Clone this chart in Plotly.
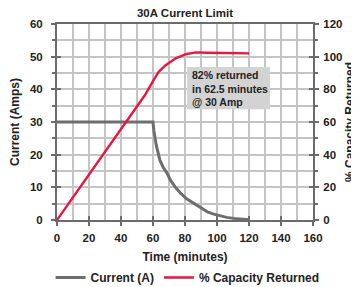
import plotly.graph_objects as go

# Data
current_time = [0, 60, 60.5, 61.1, 62, 64.3, 66.5, 68.8, 70.9, 74, 77.2, 81, 85.6, 90, 94, 98, 102.3, 106, 110.7, 115, 120]
current_amps = [30, 30, 27.5, 25.5, 23, 18.3, 16, 14.3, 12.2, 10, 8.2, 6.5, 5.1, 3.7, 2.5, 1.8, 1.2, 0.8, 0.5, 0.25, 0.1]

capacity_time = [0, 24, 48, 55, 61, 63.6, 67.9, 74.2, 80.5, 86.8, 93.5, 105, 120]
capacity_pct = [0, 33.6, 67.3, 76.5, 86.7, 90.7, 94.8, 99, 101.5, 102.6, 102.4, 102.2, 102]

x_ticks = [0, 20, 40, 60, 80, 100, 120, 140, 160]
y_left_ticks = [0, 10, 20, 30, 40, 50, 60]
y_right_ticks = [0, 20, 40, 60, 80, 100, 120]

note_lines = ["82% returned", "in 62.5 minutes", "@ 30 Amp"]
right_title = "% Capacity Returned"

GRAY = "#6e6e6e"
RED = "#e8173f"
AXIS = "#6b6b6b"
GRID = "#c4c4c4"
FONT = "Liberation Sans"
TXT = "#222222"

# page body has an 8px margin: the figure is sized so it fits the 359x287 window exactly
W, H = 351, 279
PLOT_W, PLOT_H = 256, 196

fig = go.Figure()
fig.add_trace(go.Scatter(x=current_time, y=current_amps, mode="lines", name="Current (A)",
                         line=dict(color=GRAY, width=3), xaxis="x", yaxis="y"))
fig.add_trace(go.Scatter(x=capacity_time, y=capacity_pct, mode="lines", name="% Capacity Returned",
                         line=dict(color=RED, width=2.4), xaxis="x", yaxis="y2"))
# empty helpers so the inside-tick overlay axes are drawn
fig.add_trace(go.Scatter(x=[], y=[], xaxis="x2", yaxis="y3", showlegend=False, hoverinfo="skip"))
fig.add_trace(go.Scatter(x=[], y=[], xaxis="x2", yaxis="y4", showlegend=False, hoverinfo="skip"))

tickfont = dict(family=FONT, size=11.5, color=TXT, weight="bold")
titlefont = dict(family=FONT, size=12, color=TXT, weight="bold")

# callout box behind the note
fig.add_shape(type="rect", xref="x", yref="y", x0=81.3, x1=133.1, y0=33.9, y1=46.8,
              fillcolor="#d3d3d3", line=dict(width=0), layer="above")

annotations = [
    dict(text="<br>".join(note_lines), x=84.0, y=40.35, xref="x", yref="y",
         xanchor="left", yanchor="middle", align="left", showarrow=False, borderpad=0,
         font=dict(family=FONT, size=10.5, color=TXT, weight="bold")),
    dict(text=right_title, x=1 + 37 / PLOT_W, y=0.5, xref="paper", yref="paper",
         xanchor="center", yanchor="middle", textangle=-90, showarrow=False, borderpad=0,
         font=titlefont),
]

fig.update_layout(
    width=W, height=H,
    margin=dict(l=49, r=46, t=16, b=67, autoexpand=False),
    paper_bgcolor="white", plot_bgcolor="white",
    font=dict(family=FONT, color=TXT, weight="bold"),
    title=dict(text="30A Current Limit", x=0.5, xref="paper", xanchor="center",
               y=1 - 4.5 / H, yref="container", yanchor="middle",
               font=dict(family=FONT, size=11.5, color=TXT, weight="bold")),
    xaxis=dict(range=[0, 160], tickvals=x_ticks, ticks="outside", ticklen=4, tickwidth=2,
               tickcolor=AXIS, showline=True, linecolor=AXIS, linewidth=2, mirror=True,
               showgrid=True, gridcolor=GRID, gridwidth=1.5, zeroline=False, automargin=False,
               minor=dict(dtick=10, showgrid=True, gridcolor=GRID, gridwidth=1.5),
               tickfont=tickfont, ticklabelstandoff=2,
               title=dict(text="Time (minutes)", standoff=10, font=titlefont)),
    yaxis=dict(range=[0, 60], tickvals=y_left_ticks, ticks="outside", ticklen=4, tickwidth=2,
               tickcolor=AXIS, showline=True, linecolor=AXIS, linewidth=2,
               showgrid=True, gridcolor=GRID, gridwidth=1.5, zeroline=False, automargin=False,
               minor=dict(dtick=5, showgrid=True, gridcolor=GRID, gridwidth=1.5,
                          ticks="outside", ticklen=3, tickcolor=AXIS, tickwidth=1.5),
               tickfont=tickfont, ticklabelstandoff=6,
               title=dict(text="Current (Amps)", standoff=15, font=titlefont)),
    yaxis2=dict(range=[0, 120], tickvals=y_right_ticks, overlaying="y", side="right",
                ticks="outside", ticklen=4, tickwidth=2, tickcolor=AXIS, automargin=False,
                showline=True, linecolor=AXIS, linewidth=2, showgrid=False, zeroline=False,
                minor=dict(dtick=10, ticks="outside", ticklen=3, tickcolor=AXIS, tickwidth=1.5),
                tickfont=tickfont, ticklabelstandoff=2),
    xaxis2=dict(range=[0, 160], tickvals=x_ticks, overlaying="x", side="bottom", anchor="y3",
                ticks="inside", ticklen=4, tickwidth=2, tickcolor=AXIS, automargin=False,
                showticklabels=False, showgrid=False, showline=False, zeroline=False),
    yaxis3=dict(range=[0, 60], tickvals=y_left_ticks, overlaying="y", side="left", anchor="x2",
                ticks="inside", ticklen=4, tickwidth=2, tickcolor=AXIS, automargin=False,
                showticklabels=False, showgrid=False, showline=False, zeroline=False),
    yaxis4=dict(range=[0, 120], tickvals=y_right_ticks, overlaying="y", side="right", anchor="x2",
                ticks="inside", ticklen=4, tickwidth=2, tickcolor=AXIS, automargin=False,
                showticklabels=False, showgrid=False, showline=False, zeroline=False),
    legend=dict(orientation="h", xref="paper", x=-0.025, xanchor="left",
                yref="paper", y=-(255 - 212) / PLOT_H, yanchor="top",
                font=dict(family=FONT, size=12, color=TXT, weight="bold"),
                bgcolor="rgba(0,0,0,0)", itemwidth=30, tracegroupgap=0),
    showlegend=True,
    annotations=annotations,
)

fig.write_html("out.html")
